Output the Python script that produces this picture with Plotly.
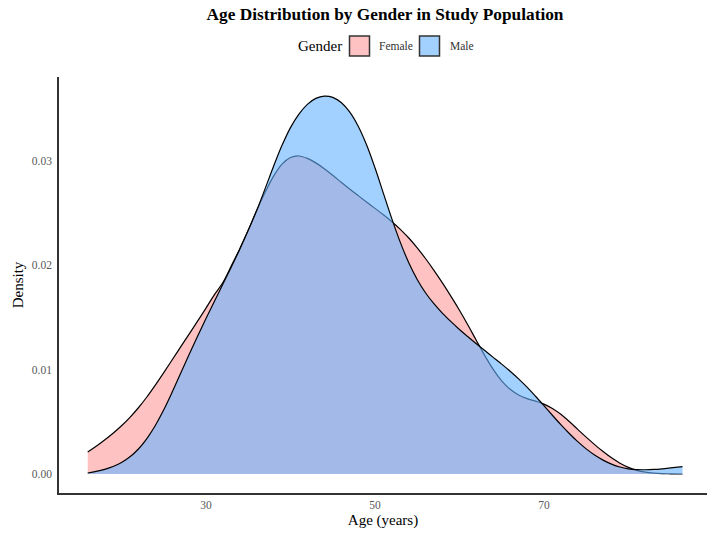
import plotly.graph_objects as go

# ---- data ----
ages = [16, 17, 18, 19, 20, 21, 22, 23, 24, 25, 26, 27, 28, 29, 30, 31, 32, 33, 34, 35,
        36, 37, 38, 39, 40, 41, 42, 43, 44, 45, 46, 47, 48, 49, 50, 51, 52, 53, 54, 55,
        56, 57, 58, 59, 60, 61, 62, 63, 64, 65, 66, 67, 68, 69, 70, 71, 72, 73, 74, 75,
        76, 77, 78, 79, 80, 81, 82, 83, 84, 85, 86.4]

female_density = [0.00210, 0.00265, 0.00325, 0.00390, 0.00462, 0.00543, 0.00635, 0.00738,
                  0.00852, 0.00972, 0.01095, 0.01218, 0.01341, 0.01465, 0.01590, 0.01720,
                  0.01835, 0.01995, 0.02160, 0.02338, 0.02525, 0.02700, 0.02855, 0.02970,
                  0.03033, 0.03048, 0.03025, 0.02982, 0.02926, 0.02863, 0.02797, 0.02732,
                  0.02669, 0.02607, 0.02546, 0.02484, 0.02418, 0.02345, 0.02262, 0.02168,
                  0.02063, 0.01950, 0.01830, 0.01703, 0.01570, 0.01428, 0.01280, 0.01135,
                  0.01003, 0.00893, 0.00812, 0.00758, 0.00723, 0.00698, 0.00670, 0.00628,
                  0.00572, 0.00503, 0.00428, 0.00353, 0.00282, 0.00215, 0.00155, 0.00104,
                  0.00064, 0.00035, 0.00018, 0.00009, 0.00004, 0.00002, 0.00000]

male_density = [0.00010, 0.00025, 0.00045, 0.00072, 0.00110, 0.00165, 0.00240, 0.00340,
                0.00465, 0.00615, 0.00785, 0.00965, 0.01145, 0.01320, 0.01490, 0.01655,
                0.01820, 0.01985, 0.02155, 0.02335, 0.02525, 0.02735, 0.02950, 0.03150,
                0.03320, 0.03450, 0.03543, 0.03600, 0.03622, 0.03610, 0.03560, 0.03470,
                0.03335, 0.03155, 0.02935, 0.02690, 0.02445, 0.02220, 0.02025, 0.01865,
                0.01735, 0.01630, 0.01540, 0.01460, 0.01385, 0.01315, 0.01248, 0.01183,
                0.01118, 0.01053, 0.00985, 0.00912, 0.00832, 0.00745, 0.00655, 0.00563,
                0.00473, 0.00388, 0.00310, 0.00241, 0.00182, 0.00133, 0.00095, 0.00067,
                0.00050, 0.00042, 0.00041, 0.00044, 0.00050, 0.00058, 0.00070]

groups = ["Female", "Male"]
fills = ["rgba(255,153,153,0.6)", "rgba(102,178,255,0.6)"]
swatch = ["#FFC2C2", "#A3D1FF"]
x_ticks = [30, 50, 70]
y_ticks = [0.00, 0.01, 0.02, 0.03]

FONT = "Liberation Serif, Times New Roman, serif"

fig = go.Figure()
for name, dens, fc in zip(groups, [female_density, male_density], fills):
    fig.add_trace(go.Scatter(
        x=ages, y=dens, name=name, mode="lines",
        line=dict(color="black", width=1.2, shape="spline", smoothing=1.0),
        fill="tozeroy", fillcolor=fc, showlegend=False, hoverinfo="x+y+name"))

# plot area in pixels: x 59..707, y 77..493
L, R, T, B = 59, 707, 77, 493
W, H = R - L, B - T

def px(xp):
    return (xp - L) / W

def py(yp):
    return (B - yp) / H

shapes = []
annotations = []
# manual legend
annotations.append(dict(text="Gender", x=px(343.5), y=py(46), xref="paper", yref="paper",
                        xanchor="right", yanchor="middle", showarrow=False,
                        font=dict(family=FONT, size=15, color="black")))
box_x = [(349.5, 369.5), (419.5, 439.5)]
label_x = [377, 447.5]
for (x0, x1), lx, col, name in zip(box_x, label_x, swatch, groups):
    shapes.append(dict(type="rect", xref="paper", yref="paper",
                       x0=px(x0), x1=px(x1), y0=py(56), y1=py(36),
                       fillcolor=col, line=dict(color="#333333", width=1.5)))
    annotations.append(dict(text=name, x=px(lx), y=py(46), xref="paper", yref="paper",
                            xanchor="left", yanchor="middle", showarrow=False,
                            font=dict(family=FONT, size=11.5, color="#333333")))

fig.update_layout(
    width=707, height=534,
    margin=dict(l=L, r=707 - R, t=T, b=534 - B),
    paper_bgcolor="white", plot_bgcolor="white",
    font=dict(family=FONT, color="black"),
    title=dict(text="<b>Age Distribution by Gender in Study Population</b>",
               x=px(385), xref="paper", xanchor="center", y=1 - 13.5 / 534, yanchor="middle",
               font=dict(family=FONT, size=17.3, color="black")),
    xaxis=dict(range=[12.6, 89.3], tickvals=x_ticks, ticktext=[str(v) for v in x_ticks],
               showgrid=False, zeroline=False, showline=True, linecolor="#333333",
               linewidth=1.5, ticks="", tickfont=dict(family=FONT, size=11.5, color="#595959"),
               title=dict(text="Age (years)", standoff=5,
                          font=dict(family=FONT, size=15, color="black"))),
    yaxis=dict(range=[-0.00182, 0.03805], tickvals=y_ticks,
               ticktext=["%.2f" % v for v in y_ticks], ticklabelstandoff=3,
               showgrid=False, zeroline=False, showline=True, linecolor="#333333",
               linewidth=1.5, ticks="", tickfont=dict(family=FONT, size=11.5, color="#595959"),
               title=dict(text="Density", standoff=5,
                          font=dict(family=FONT, size=15, color="black"))),
    shapes=shapes, annotations=annotations, showlegend=False,
)

fig.write_html("out.html")
